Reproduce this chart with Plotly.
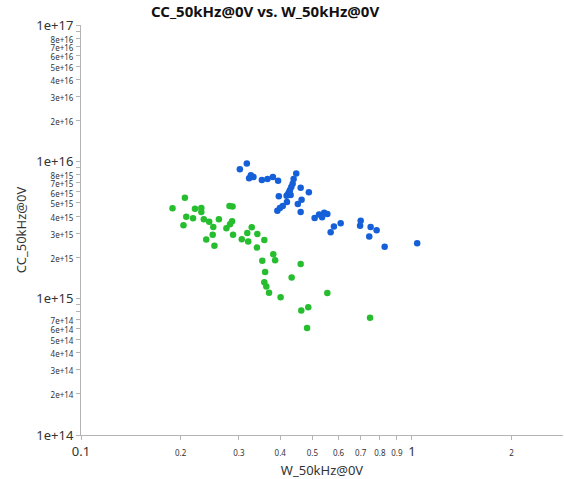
import plotly.graph_objects as go
import math

# Blue series
blue_x = [0.302, 0.317, 0.322, 0.326, 0.332, 0.352, 0.366, 0.380, 0.394, 0.447,
          0.439, 0.436, 0.432, 0.428, 0.425, 0.422, 0.418, 0.430, 0.396, 0.461,
          0.488, 0.419, 0.464, 0.452, 0.461, 0.392, 0.399, 0.407, 0.508, 0.524,
          0.535, 0.543, 0.555, 0.581, 0.568, 0.609, 0.700, 0.697, 0.750, 0.743,
          0.782, 0.827, 1.037]
blue_y = [8.8e15, 9.7e15, 7.56e15, 7.95e15, 7.73e15, 7.35e15, 7.47e15, 7.73e15, 7.26e15, 8.2e15,
          7.47e15, 6.9e15, 6.53e15, 6.21e15, 5.97e15, 5.78e15, 5.64e15, 5.71e15, 5.58e15, 6.45e15,
          5.97e15, 5.07e15, 5.27e15, 4.91e15, 4.29e15, 4.38e15, 4.58e15, 4.74e15, 3.87e15, 4.1e15,
          3.92e15, 4.22e15, 4.14e15, 3.35e15, 3.04e15, 3.54e15, 3.7e15, 3.39e15, 3.33e15, 2.83e15,
          3.15e15, 2.38e15, 2.53e15]

# Green series
green_x = [0.206, 0.189, 0.221, 0.231, 0.231, 0.281, 0.287, 0.208, 0.218, 0.204,
           0.235, 0.244, 0.261, 0.251, 0.286, 0.282, 0.275, 0.328, 0.318, 0.341,
           0.288, 0.250, 0.239, 0.253, 0.306, 0.320, 0.358, 0.340, 0.381, 0.386,
           0.353, 0.461, 0.360, 0.433, 0.358, 0.363, 0.370, 0.401, 0.555, 0.486,
           0.463, 0.747, 0.482]
green_y = [5.45e15, 4.56e15, 4.53e15, 4.58e15, 4.29e15, 4.74e15, 4.69e15, 3.96e15, 3.85e15, 3.43e15,
           3.79e15, 3.64e15, 3.79e15, 3.33e15, 3.66e15, 3.48e15, 3.26e15, 3.31e15, 3.01e15, 2.96e15,
           2.92e15, 2.92e15, 2.69e15, 2.43e15, 2.71e15, 2.6e15, 2.67e15, 2.35e15, 2.1e15, 1.9e15,
           1.88e15, 1.78e15, 1.56e15, 1.42e15, 1.31e15, 1.22e15, 1.1e15, 1.02e15, 1.095e15, 8.61e14,
           8.13e14, 7.22e14, 6.07e14]

SMALL = "<span style='font-size:8px'>%s</span>"

# x ticks
x_tickvals = [0.1, 0.2, 0.3, 0.4, 0.5, 0.6, 0.7, 0.8, 0.9, 1, 2]
x_ticktext = ["0.1"] + [SMALL % t for t in ["0.2", "0.3", "0.4", "0.5", "0.6", "0.7", "0.8", "0.9"]] + ["1", SMALL % "2"]

# y ticks
y_tickvals = []
y_ticktext = []
for exp in [14, 15, 16]:
    for m in range(1, 10):
        y_tickvals.append(m * 10 ** exp)
        if m == 1:
            y_ticktext.append("1e+%d" % exp)
        elif m == 9 or (exp == 14 and m == 8):
            y_ticktext.append("")
        else:
            y_ticktext.append(SMALL % ("%de+%d" % (m, exp)))
y_tickvals.append(1e17)
y_ticktext.append("1e+17")

fig = go.Figure()
fig.add_trace(go.Scatter(x=blue_x, y=blue_y, mode="markers",
                         marker=dict(color="#1560d8", size=6.5), showlegend=False))
fig.add_trace(go.Scatter(x=green_x, y=green_y, mode="markers",
                         marker=dict(color="#26bd2e", size=6.5), showlegend=False))

axis_common = dict(showgrid=False, zeroline=False, showline=True, linecolor="#b4b4b4",
                   linewidth=1, ticks="outside", ticklen=4, tickcolor="#b4b4b4",
                   tickfont=dict(size=13, color="#333333"), mirror=False)

fig.update_layout(
    width=564, height=479,
    margin=dict(l=81, r=1, t=25, b=44),
    paper_bgcolor="white", plot_bgcolor="white",
    font=dict(family="Noto Sans, Open Sans, sans-serif", color="#333333"),
    title=dict(text="<b>CC_50kHz@0V vs. W_50kHz@0V</b>", x=0.47, xanchor="center",
               y=0.975, yanchor="middle", font=dict(size=15, color="#111111")),
    xaxis=dict(type="log", range=[-1, math.log10(2.86)], tickmode="array",
               tickvals=x_tickvals, ticktext=x_ticktext,
               title=dict(text="W_50kHz@0V", font=dict(size=13), standoff=8), **axis_common),
    yaxis=dict(type="log", range=[14, 17], tickmode="array",
               tickvals=y_tickvals, ticktext=y_ticktext,
               title=dict(text="CC_50kHz@0V", font=dict(size=13), standoff=6), **axis_common),
)

fig.write_html("out.html")
